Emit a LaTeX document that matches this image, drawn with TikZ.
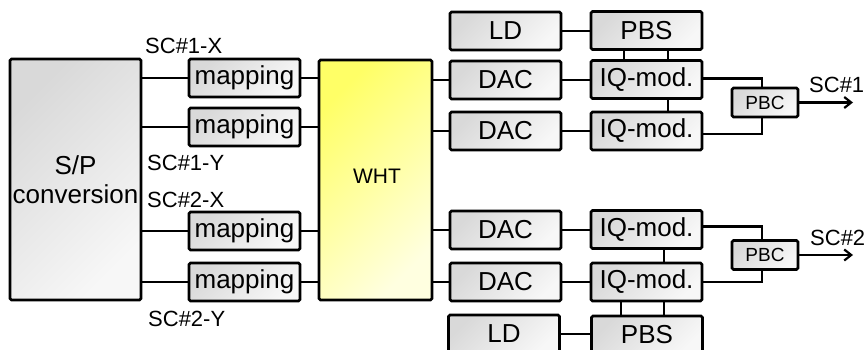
\documentclass[tikz,border=0pt]{standalone}
\usepackage{fontspec}
\setmainfont{Liberation Sans}
\usetikzlibrary{arrows.meta,calc}
\begin{document}
\begin{tikzpicture}[x=1pt,y=-1pt,
  box/.style={draw=black, line width=2.6pt, rounded corners=1.5pt, inner sep=0pt,
    left color=black!15, right color=black!3, shading angle=45,
    minimum width=111pt, minimum height=38pt,
    font=\fontsize{26}{28}\selectfont},
  whtbox/.style={box, left color=yellow!60, right color=yellow!12, shading angle=45},
  pbcbox/.style={box, minimum width=66pt, minimum height=29pt, font=\fontsize{19}{21}\selectfont},
  lbl/.style={inner sep=0pt, anchor=west, font=\fontsize{22}{24}\selectfont},
  wire/.style={line width=2.6pt},
  arr/.style={line width=2.2pt, -{Straight Barb[length=7pt,width=11pt,line width=2.2pt]}}
]
\useasboundingbox (0,0) rectangle (865,349);
\begin{scope}
\clip (0,0) rectangle (865,349);
% S/P
\node[box, minimum width=131pt, minimum height=241pt, align=center,
  font=\fontsize{26}{30}\selectfont] (sp) at (75.5,179.5) {S/P\\[-1pt]conversion};
% mapping
\node[box] (m1) at (244.5,78) {mapping};
\node[box] (m2) at (244.5,127) {mapping};
\node[box] (m3) at (244.5,231) {mapping};
\node[box] (m4) at (244.5,282) {mapping};
% WHT
\node[whtbox, minimum width=113pt, minimum height=240pt] (wht) at (375.5,180) {};
\node[inner sep=0pt, font=\fontsize{21}{23}\selectfont] (whtl) at (377,176) {WHT};
% DAC column
\node[box] (ld1) at (505.5,31) {LD};
\node[box] (d1) at (505.5,80) {DAC};
\node[box] (d2) at (505.5,131) {DAC};
\node[box] (d3) at (505.5,230) {DAC};
\node[box] (d4) at (505.5,282) {DAC};
\node[box] (ld2) at (504,334) {LD};
% IQ column
\node[box] (pbs1) at (646.5,30.5) {PBS};
\node[box] (iq1) at (646.5,79.5) {IQ-mod.};
\node[box] (iq2) at (646.5,131) {IQ-mod.};
\node[box] (iq3) at (646.5,229.5) {IQ-mod.};
\node[box] (iq4) at (646.5,282) {IQ-mod.};
\node[box] (pbs2) at (647,335) {PBS};
% PBC
\node[pbcbox] (pbc1) at (765,102.5) {PBC};
\node[pbcbox] (pbc2) at (765,255) {PBC};
% labels
\node[lbl] (l1) at (145,46) {SC\#1-X};
\node[lbl] (l2) at (147,163) {SC\#1-Y};
\node[lbl] (l3) at (147,200) {SC\#2-X};
\node[lbl] (l4) at (148,319) {SC\#2-Y};
\node[lbl] (o1) at (809,85) {SC\#1};
\node[lbl] (o2) at (810,238) {SC\#2};
% wires S/P -> mapping -> WHT
\foreach \m in {m1,m2,m3,m4}{
  \draw[wire] (\m.west -| sp.east) -- (\m.west);
  \draw[wire] (\m.east) -- (\m.east -| wht.west);
}
% WHT -> DAC -> IQ
\foreach \d/\q in {d1/iq1,d2/iq2,d3/iq3,d4/iq4}{
  \draw[wire] (\d.west -| wht.east) -- (\d.west);
  \draw[wire] (\d.east) -- (\d.east -| \q.west);
}
% LD -> PBS
\draw[wire] (ld1.east) -- (ld1.east -| pbs1.west);
\draw[wire] (ld2.east) -- (ld2.east -| pbs2.west);
% PBS <-> IQ verticals
\draw[wire] ([xshift=-22.5pt]pbs1.south) -- ([xshift=-22.5pt]iq1.north);
\draw[wire] ([xshift=21.5pt]pbs1.south) -- ([xshift=21.5pt]iq1.north);
\draw[wire] ([xshift=21.5pt]iq1.south) -- ([xshift=21.5pt]iq2.north);
\draw[wire] ([xshift=17.5pt]iq3.south) -- ([xshift=17.5pt]iq4.north);
\draw[wire] ([xshift=-25.5pt]iq4.south) -- ([xshift=-26pt]pbs2.north);
\draw[wire] ([xshift=17.5pt]iq4.south) -- ([xshift=17pt]pbs2.north);
% IQ -> PBC
\coordinate (c1) at ([xshift=-3pt]pbc1.north);
\coordinate (c2) at ([xshift=-3pt]pbc1.south);
\coordinate (c3) at ([xshift=-3pt]pbc2.north);
\coordinate (c4) at ([xshift=-3pt]pbc2.south);
\draw[wire] ([yshift=1pt]iq1.east) -| (c1);
\draw[wire] ([yshift=-3pt]iq2.east) -| (c2);
\draw[wire] ([yshift=3pt]iq3.east) -| (c3);
\draw[wire] (iq4.east) -| (c4);
% outputs
\coordinate (e1) at (853,102.5);
\coordinate (e2) at (853,255);
\draw[arr] (pbc1.east) -- (e1);
\draw[arr] (pbc2.east) -- (e2);
\end{scope}
\end{tikzpicture}
\end{document}
